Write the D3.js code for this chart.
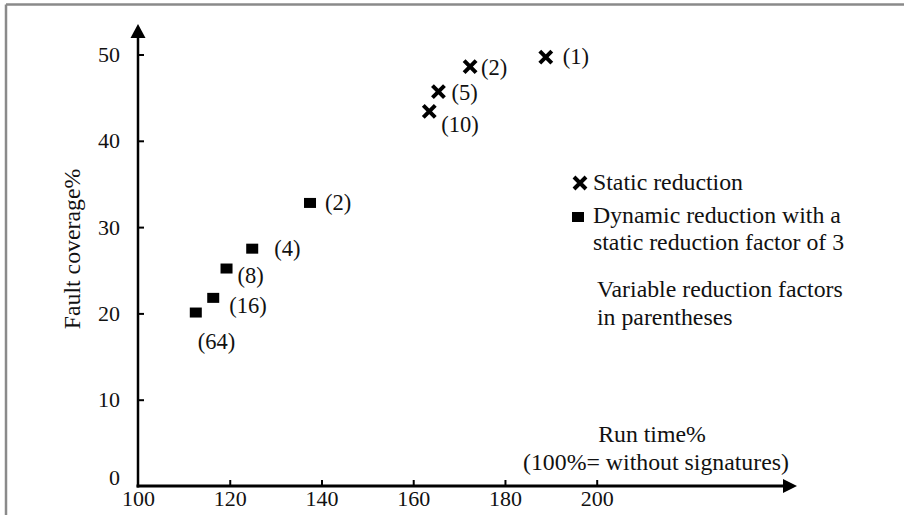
<!DOCTYPE html>
<meta charset="utf-8">
<head>
<style>
body { margin: 0; background: #fff; }
text { font-family: "Liberation Serif", "Times New Roman", serif; fill: #111; }
.tick text { font-size: 22px; }
.tick line { stroke: #000; stroke-width: 2px; }
.lbl { font-size: 23.8px; }
.ptlbl { font-size: 22.5px; }
</style>
</head>
<body>
<script src="https://d3js.org/d3.v7.min.js"></script>
<script>

// static reduction points (run time %, fault coverage %, factor)
var staticRun = [188.9, 172.4, 165.5, 163.5];
var staticCov = [49.7, 48.6, 45.7, 43.4];
var staticFactor = ["(1)", "(2)", "(5)", "(10)"];

// dynamic reduction, static factor 3
var dynRun = [137.5, 124.9, 119.3, 116.4, 112.6];
var dynCov = [32.8, 27.5, 25.2, 21.8, 20.1];
var dynFactor = ["(2)", "(4)", "(8)", "(16)", "(64)"];

var xTicks = [100, 120, 140, 160, 180, 200];
var yTicks = [0, 10, 20, 30, 40, 50];

// label placement next to each marker (layout only)
var staticLabelPos = [[17, 7], [11, 8], [13, 8], [12, 21]];
var dynLabelPos = [[15, 7], [22, 7], [11, 14], [16, 15], [2, 36]];

var width = 904, height = 515;

var x = d3.scaleLinear().domain([100, 200]).range([138, 596.7]);
var y = d3.scaleLinear().domain([0, 50]).range([486, 54.5]);

var svg = d3.select("body").append("svg")
    .attr("width", width)
    .attr("height", height);

// gray frame (top and left edge)
svg.append("line").attr("x1", 6).attr("x2", width).attr("y1", 4.5).attr("y2", 4.5)
    .attr("stroke", "#8a8a8a").attr("stroke-width", 2.5);
svg.append("line").attr("x1", 6).attr("x2", 6).attr("y1", 4.5).attr("y2", height)
    .attr("stroke", "#8a8a8a").attr("stroke-width", 2.5);

// axes, ticks pointing inward
svg.append("g")
    .attr("transform", "translate(0," + y(0) + ")")
    .call(d3.axisBottom(x).tickValues(xTicks).tickSizeInner(-6).tickSizeOuter(0).tickPadding(4))
    .call(function(g) { g.select(".domain").remove(); });

svg.append("g")
    .attr("transform", "translate(" + x(100) + ",0)")
    .call(d3.axisLeft(y).tickValues(yTicks).tickSizeInner(-6).tickSizeOuter(0).tickPadding(18))
    .call(function(g) {
      g.select(".domain").remove();
      g.selectAll(".tick").filter(function(d) { return d === 0; }).select("line").remove();
      g.selectAll(".tick").filter(function(d) { return d === 0; }).select("text").attr("dy", "-0.05em");
    });
svg.selectAll(".tick").filter(function(d) { return d === 100; }).select("line").remove();

// axis lines with arrow heads
var x0 = x(100), y0 = y(0);
svg.append("line").attr("x1", x0 - 1.5).attr("x2", 785).attr("y1", y0).attr("y2", y0)
    .attr("stroke", "#000").attr("stroke-width", 3);
svg.append("path").attr("d", "M783," + (y0 - 7) + "L797," + y0 + "L783," + (y0 + 7) + "Z");
svg.append("line").attr("x1", x0).attr("x2", x0).attr("y1", y0 + 1.5).attr("y2", 36)
    .attr("stroke", "#000").attr("stroke-width", 2.5);
svg.append("path").attr("d", "M" + (x0 - 7.5) + ",38L" + x0 + ",24L" + (x0 + 7.5) + ",38Z");

// axis titles
svg.append("text").attr("class", "lbl")
    .attr("transform", "translate(80," + 249 + ") rotate(-90)")
    .attr("text-anchor", "middle")
    .text("Fault coverage%");
svg.append("text").attr("class", "lbl").attr("x", 652).attr("y", 442)
    .attr("text-anchor", "middle").text("Run time%");
svg.append("text").attr("class", "lbl").attr("x", 656).attr("y", 470)
    .attr("text-anchor", "middle").text("(100%= without signatures)");

function cross(sel) {
  sel.attr("d", "M-6,-6L6,6M-6,6L6,-6")
     .attr("stroke", "#000").attr("stroke-width", 4).attr("fill", "none");
}

// static markers
var sData = staticRun.map(function(d, i) {
  return {x: staticRun[i], y: staticCov[i], f: staticFactor[i], p: staticLabelPos[i]};
});
svg.selectAll(".stat").data(sData).enter().append("path")
    .attr("class", "stat")
    .attr("transform", function(d) { return "translate(" + x(d.x) + "," + y(d.y) + ")"; })
    .call(cross);
svg.selectAll(".statlbl").data(sData).enter().append("text")
    .attr("class", "ptlbl statlbl")
    .attr("x", function(d) { return x(d.x) + d.p[0]; })
    .attr("y", function(d) { return y(d.y) + d.p[1]; })
    .text(function(d) { return d.f; });

// dynamic markers
var dData = dynRun.map(function(d, i) {
  return {x: dynRun[i], y: dynCov[i], f: dynFactor[i], p: dynLabelPos[i]};
});
svg.selectAll(".dyn").data(dData).enter().append("rect")
    .attr("class", "dyn")
    .attr("x", function(d) { return x(d.x) - 6; })
    .attr("y", function(d) { return y(d.y) - 5; })
    .attr("width", 12).attr("height", 10)
    .attr("fill", "#000");
svg.selectAll(".dynlbl").data(dData).enter().append("text")
    .attr("class", "ptlbl dynlbl")
    .attr("x", function(d) { return x(d.x) + d.p[0]; })
    .attr("y", function(d) { return y(d.y) + d.p[1]; })
    .text(function(d) { return d.f; });

// legend
svg.append("path").attr("transform", "translate(580,183)").call(cross);
svg.append("text").attr("class", "lbl").attr("x", 593).attr("y", 190).text("Static reduction");
svg.append("rect").attr("x", 572).attr("y", 212).attr("width", 12).attr("height", 10).attr("fill", "#000");
svg.append("text").attr("class", "lbl").attr("x", 593).attr("y", 223).text("Dynamic reduction with a");
svg.append("text").attr("class", "lbl").attr("x", 593).attr("y", 250).text("static reduction factor of 3");
svg.append("text").attr("class", "lbl").attr("x", 597).attr("y", 297).text("Variable reduction factors");
svg.append("text").attr("class", "lbl").attr("x", 597).attr("y", 325).text("in parentheses");

</script>
</body>
